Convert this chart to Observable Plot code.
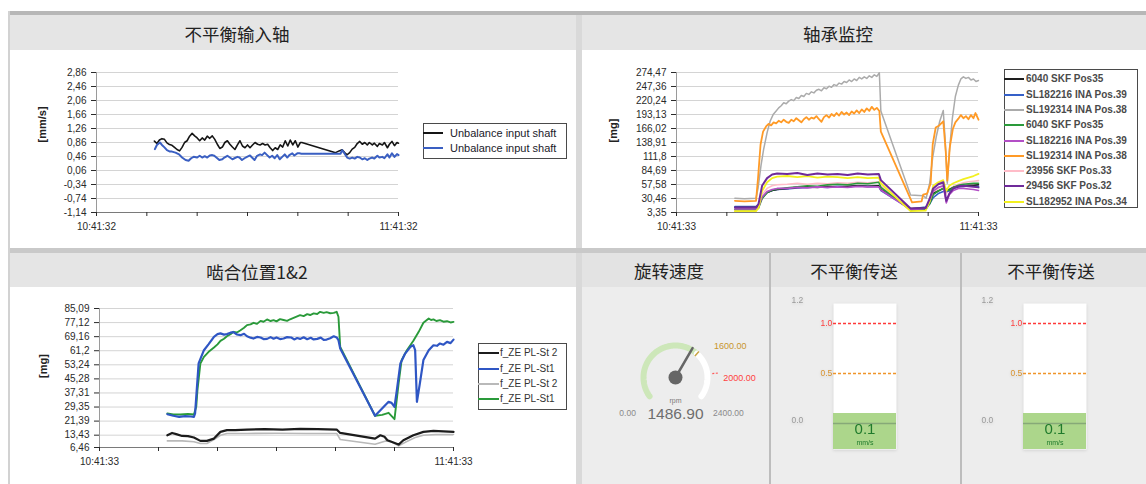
<!DOCTYPE html>
<html><head><meta charset="utf-8">
<script src="https://cdn.jsdelivr.net/npm/d3@7"></script>
<script src="https://cdn.jsdelivr.net/npm/@observablehq/plot@0.6"></script>
<style>
html,body{margin:0;padding:0;background:#fff;}
#page{position:relative;width:1146px;height:484px;overflow:hidden;font-family:"Liberation Sans",Arial,sans-serif;}
#page svg{position:absolute;}
.title{position:absolute;transform:translate(-50%,-50%);font-family:"Noto Sans CJK SC",sans-serif;font-size:17.5px;color:#222;white-space:nowrap;}
.legend{position:absolute;background:#fff;border:1px solid #4a4a4a;box-sizing:border-box;}
.legend .sw{position:absolute;height:2px;}
.legend .tx{position:absolute;transform:translateY(-50%);line-height:1;white-space:nowrap;}
.barsvg{filter:drop-shadow(0 1px 1.5px rgba(0,0,0,0.12));}
</style></head>
<body><div id="page"></div>
<script>
// ---------------- data ----------------
const panelTitles = ["不平衡输入轴", "轴承监控", "啮合位置1&2", "旋转速度", "不平衡传送", "不平衡传送"];

// time axis: minutes after the start label
const timeLabelsA = ["10:41:32", "11:41:32"];
const timeLabelsB = ["10:41:33", "11:41:33"];

// --- 不平衡输入轴 ---
const unbalanceTicks = ["2,86", "2,46", "2,06", "1,66", "1,26", "0,86", "0,46", "0,06", "-0,34", "-0,74", "-1,14"];
const unbalanceUnit = "[mm/s]";
const unbalanceNames = ["Unbalance input shaft", "Unbalance input shaft"];
const unbalanceBlack = [[11.5,0.90],[12,0.83],[12.5,0.93],[13,0.97],[13.5,0.95],[14,0.85],[14.5,0.80],[15,0.78],[15.5,0.72],[16,0.66],[16.5,0.62],[17,0.72],[17.5,0.86],[18,0.91],[18.5,1.04],[19,1.12],[19.5,1.05],[20,0.99],[20.5,0.91],[21,0.99],[21.5,0.93],[22,1.04],[22.5,0.98],[23,1.05],[23.5,0.95],[24,0.81],[24.5,0.69],[25,0.73],[25.5,0.86],[26,0.91],[26.5,0.81],[27,0.73],[27.5,0.66],[28,0.79],[28.5,0.91],[29,0.76],[29.5,0.71],[30,0.79],[30.5,0.71],[31,0.79],[31.5,0.86],[32,0.81],[32.5,0.79],[33,0.83],[33.5,0.79],[34,0.81],[34.5,0.71],[35,0.63],[35.5,0.71],[36,0.66],[36.5,0.79],[37,0.73],[37.5,0.91],[38,0.76],[38.5,0.93],[39,0.79],[39.5,0.91],[40,0.73],[40.5,0.86],[40.8,0.86],[47.5,0.57],[48.2,0.62],[48.8,0.65],[49.3,0.57],[49.8,0.51],[50.3,0.57],[50.8,0.67],[51.3,0.72],[51.8,0.83],[52.3,0.89],[52.8,0.81],[53.3,0.86],[53.8,0.79],[54.2,0.86],[54.8,0.79],[55.2,0.84],[55.8,0.75],[56.2,0.83],[56.8,0.79],[57.2,0.86],[57.8,0.71],[58.2,0.81],[58.7,0.89],[59.2,0.77],[59.7,0.86],[60,0.84]];
const unbalanceBlue = [[11.6,0.67],[12,0.79],[12.6,0.86],[13,0.79],[13.5,0.72],[14,0.64],[14.6,0.60],[15,0.60],[15.7,0.57],[16.4,0.52],[17,0.43],[17.7,0.36],[18.3,0.34],[18.8,0.41],[19.3,0.45],[20,0.43],[20.5,0.48],[21,0.43],[21.5,0.47],[22,0.43],[22.5,0.49],[23,0.50],[23.4,0.48],[24,0.41],[24.4,0.36],[25,0.38],[25.4,0.43],[26,0.48],[26.5,0.43],[27,0.38],[27.4,0.41],[28,0.45],[28.4,0.43],[28.9,0.36],[29.4,0.41],[29.9,0.45],[30.5,0.49],[30.9,0.43],[31.4,0.36],[31.9,0.48],[32.5,0.52],[32.9,0.50],[33.4,0.57],[33.9,0.50],[34.4,0.43],[34.9,0.48],[35.4,0.41],[35.9,0.50],[36.4,0.38],[36.9,0.45],[37.4,0.52],[37.9,0.43],[38.3,0.50],[38.9,0.55],[39.3,0.49],[39.9,0.55],[40.3,0.55],[40.7,0.54],[48.5,0.54],[48.8,0.64],[49.3,0.54],[49.8,0.43],[50.3,0.40],[50.8,0.43],[51.3,0.40],[51.8,0.45],[52.3,0.43],[52.8,0.38],[53.3,0.41],[53.8,0.36],[54.2,0.40],[54.8,0.43],[55.2,0.40],[55.8,0.48],[56.2,0.43],[56.8,0.45],[57.2,0.41],[57.8,0.52],[58.2,0.43],[58.7,0.55],[59.2,0.45],[59.7,0.53],[60,0.50]];

// --- 轴承监控 ---
const bearingTicks = ["274,47", "247,36", "220,24", "193,13", "166,02", "138,91", "111,8", "84,69", "57,58", "30,46", "3,35"];
const bearingUnit = "[mg]";
const bearingNames = ["6040 SKF Pos35", "SL182216 INA Pos.39", "SL192314 INA Pos.38", "6040 SKF Pos35", "SL182216 INA Pos.39", "SL192314 INA Pos.38", "23956 SKF Pos.33", "29456 SKF Pos.32", "SL182952 INA Pos.34"];
const bearingTime = [11.6,15.8,16.3,17.0,18.0,19.0,20.0,22.0,24.0,26.0,28.0,30.0,32.0,34.0,36.0,38.0,40.2,40.6,46.5,49.5,50.3,51.0,52.0,53.0,53.6,54.2,55.0,56.0,57.0,58.0,59.0,60.0];
const bearingSkf35a   = [13,13,16,32,42,46,48,50,52,53,52,54,53,54,55,54,55,48,11,12,22,40,45,50,46,48,52,54,55,56,56,57];
const bearingIna39a   = [15,15,18,32,42,46,48,49,51,52,53,52,54,53,55,54,54,46,10,14,20,32,40,44,44,45,50,53,54,55,55,54];
const bearingSkf35b   = [9,9,12,30,42,47,49,51,53,55,54,57,58,57,60,59,62,52,8,9,20,38,45,50,48,46,52,56,58,59,60,60];
const bearingIna39b   = [10,10,14,33,44,48,50,50,52,51,53,52,53,52,54,53,53,47,9,11,25,45,52,55,22,38,46,50,50,49,48,46];
const bearingSkf33    = [8,8,12,38,50,55,57,58,60,58,60,59,61,60,62,61,63,55,9,10,22,42,50,55,40,48,54,58,61,63,64,65];
const bearingSkf32    = [13,13,20,55,70,77,79,78,80,76,79,77,78,76,79,77,78,66,11,12,30,50,58,62,26,40,50,54,55,54,53,52];
const bearingIna34    = [6,6,12,45,62,70,73,74,72,74,71,73,72,70,72,70,71,60,6,7,25,55,62,66,45,55,60,64,68,71,74,78];
const bearingIna38a = [[11.6,31],[13.5,30],[15.8,31],[16.2,50],[16.8,95],[17.3,125],[18.0,158],[18.6,180],[19.2,193],[19.8,200],[20.3,206],[20.8,210],[21.3,216],[21.8,214],[22.3,219],[22.8,222],[23.3,220],[23.8,226],[24.3,224],[24.8,230],[25.3,228],[25.8,234],[26.3,232],[26.8,237],[27.3,235],[27.8,240],[28.3,242],[28.8,239],[29.3,245],[29.8,243],[30.3,248],[30.8,246],[31.3,251],[31.8,249],[32.3,254],[32.8,252],[33.3,257],[33.8,255],[34.3,260],[34.8,257],[35.3,262],[35.8,259],[36.3,265],[36.8,262],[37.3,266],[37.8,263],[38.3,268],[38.8,265],[39.3,270],[39.8,267],[40.3,274],[40.6,200],[46.5,37],[49.0,36],[49.6,31],[50.3,60],[50.9,110],[51.6,150],[52.3,180],[53.0,201],[53.4,140],[53.8,60],[54.2,120],[54.8,185],[55.4,228],[56.0,250],[56.5,262],[57.0,266],[57.5,263],[58.0,265],[58.5,260],[59.0,262],[59.5,257],[60.0,259]];
const bearingIna38b = [[11.6,26],[13.5,25],[15.8,26],[16.2,70],[16.7,135],[17.2,160],[17.8,170],[18.3,175],[18.8,172],[19.3,178],[19.8,176],[20.3,181],[20.8,178],[21.3,183],[21.8,179],[22.3,177],[22.8,183],[23.3,180],[23.8,186],[24.3,182],[24.8,178],[25.3,184],[25.8,188],[26.3,183],[26.8,187],[27.3,185],[27.8,190],[28.3,184],[28.8,179],[29.3,188],[29.8,192],[30.3,187],[30.8,194],[31.3,190],[31.8,196],[32.3,191],[32.8,198],[33.3,193],[33.8,197],[34.3,192],[34.8,199],[35.3,195],[35.8,201],[36.3,196],[36.8,203],[37.3,198],[37.8,205],[38.3,200],[38.8,208],[39.3,202],[39.8,206],[40.3,200],[40.6,160],[46.8,23],[48.7,25],[49.0,38],[49.8,40],[50.5,60],[50.9,135],[51.5,168],[52.2,172],[53.0,180],[53.5,120],[53.8,65],[54.3,130],[54.9,165],[55.4,178],[56.0,185],[56.5,192],[57.0,186],[57.5,190],[58.0,184],[58.5,192],[59.0,186],[59.4,196],[60.0,183]];

// --- 啮合位置1&2 ---
const meshTicks = ["85,09", "77,12", "69,16", "61,2", "53,24", "45,28", "37,31", "29,35", "21,39", "13,43", "6,46"];
const meshUnit = "[mg]";
const meshNames = ["f_ZE PL-St 2", "f_ZE PL-St1", "f_ZE PL-St 2", "f_ZE PL-St1"];
const meshSt2a = [[11.5,13.4],[12.3,14.7],[13.0,14.0],[14.0,13.0],[15.0,12.9],[16.0,12.1],[17.1,10.2],[18.2,10.2],[19.4,11.5],[20.5,15.3],[21.6,16.3],[23.0,16.3],[25.0,16.6],[28.0,16.8],[31.0,16.6],[34.0,17.0],[37.0,16.8],[40.2,16.6],[40.8,14.7],[46.7,11.5],[47.6,13.4],[48.3,12.5],[48.8,10.6],[50.7,8.1],[51.5,10.6],[53.2,13.4],[54.9,15.3],[56.6,15.9],[60.0,15.3]];
const meshSt1a = [[11.5,25.3],[12.5,24.4],[13.5,23.8],[14.5,24.2],[15.5,24.0],[16.0,23.8],[16.2,25.7],[16.8,54.0],[17.7,61.5],[18.5,64.9],[19.4,69.1],[20.0,70.6],[20.5,71.0],[21.1,70.3],[21.6,70.6],[22.2,71.4],[22.7,71.7],[23.3,70.4],[23.9,70.0],[24.5,70.8],[25.0,69.4],[25.6,68.6],[26.1,68.1],[26.7,69.0],[27.3,68.7],[27.8,67.8],[28.4,67.9],[29.0,68.9],[29.5,68.0],[30.0,68.7],[30.6,67.8],[31.2,68.1],[31.8,68.9],[32.5,68.7],[33.0,67.6],[33.5,68.4],[34.0,67.9],[34.6,68.8],[35.2,67.7],[35.8,68.5],[36.3,67.6],[36.9,67.9],[37.5,68.6],[38.0,67.3],[38.5,67.5],[39.1,68.3],[39.7,69.4],[40.2,68.7],[40.5,67.2],[40.8,62.5],[46.7,24.4],[49.0,32.3],[49.5,31.7],[50.0,29.5],[50.4,38.9],[51.0,54.0],[51.8,59.6],[52.7,63.4],[53.2,64.3],[53.5,61.5],[53.8,32.3],[54.3,42.7],[54.9,55.9],[55.8,61.5],[56.6,64.3],[57.2,64.0],[57.7,65.3],[58.3,64.6],[58.9,66.2],[59.5,65.5],[60.0,67.5]];
const meshSt2b = [[11.5,10.2],[14.0,10.2],[16.0,9.7],[17.1,8.7],[18.2,8.7],[19.4,11.0],[20.5,13.4],[21.6,14.4],[25.0,14.4],[30.0,14.5],[35.0,14.4],[40.2,14.4],[40.8,11.0],[46.7,8.3],[48.5,10.2],[49.5,9.7],[50.7,7.4],[52.0,9.7],[53.5,12.1],[54.9,13.4],[57.0,13.8],[60.0,13.8]];
const meshSt1b = [[11.5,25.7],[12.5,25.2],[13.7,25.1],[15.0,25.4],[16.0,25.1],[16.4,29.5],[16.6,38.9],[17.1,54.0],[17.7,57.7],[18.5,60.6],[19.4,63.0],[20.0,64.8],[20.5,66.8],[21.1,68.0],[21.6,69.4],[22.2,70.5],[22.7,71.9],[23.3,71.5],[23.9,72.8],[24.5,74.2],[25.0,75.7],[25.6,76.1],[26.1,77.0],[26.7,76.4],[27.3,78.1],[27.8,77.6],[28.4,78.9],[29.0,78.0],[29.5,78.5],[30.0,77.8],[30.6,79.1],[31.2,78.6],[31.8,78.1],[32.3,79.0],[32.9,79.8],[33.5,80.6],[34.0,81.3],[34.6,80.8],[35.2,81.9],[35.7,81.4],[36.3,82.3],[36.9,82.0],[37.4,83.2],[38.0,82.6],[38.5,83.0],[39.1,82.4],[39.7,82.6],[40.2,83.2],[40.5,80.4],[40.8,63.4],[46.7,24.4],[47.9,24.9],[49.0,26.1],[50.0,22.5],[50.7,42.7],[51.2,55.9],[52.1,61.5],[53.2,66.8],[54.1,71.9],[54.9,77.0],[55.8,79.4],[56.2,78.6],[56.6,78.9],[57.1,78.0],[57.7,78.5],[58.3,77.6],[58.9,77.9],[59.5,77.2],[60.0,77.5]];

// --- 旋转速度 gauge ---
const rpmValue = 1486.90;
const rpmMin = 0, rpmMax = 2400, rpmWarn = 1600, rpmAlarm = 2000;
const rpmUnit = "rpm";

// --- 不平衡传送 bars ---
const balanceValues = [0.1, 0.1];
const balanceMin = 0.0, balanceMax = 1.2, balanceAlarm = 1.0, balanceWarn = 0.5;
const balanceUnit = "mm/s";

// ---------------- layout helpers ----------------
const page = document.getElementById("page");
function box(l, t, w, h, bg) {
  const d = document.createElement("div");
  Object.assign(d.style, {position: "absolute", left: l + "px", top: t + "px", width: w + "px", height: h + "px", background: bg});
  page.appendChild(d); return d;
}
function title(text, cx, cy) {
  const d = document.createElement("div");
  d.className = "title"; d.textContent = text;
  d.style.left = cx + "px"; d.style.top = cy + "px";
  page.appendChild(d);
}
function place(node, l, t, cls) { node.style.left = l + "px"; node.style.top = t + "px"; if (cls) node.classList.add(cls); page.appendChild(node); }
function legend(l, t, w, h, rows, opt) {
  const d = document.createElement("div");
  d.className = "legend";
  Object.assign(d.style, {left: l + "px", top: t + "px", width: w + "px", height: h + "px"});
  rows.forEach((r, i) => {
    const y = opt.y0 + i * opt.step;
    const s = document.createElement("div"); s.className = "sw";
    Object.assign(s.style, {left: "-1px", top: (y - 1) + "px", width: opt.sw + "px", background: r.color, height: (opt.lw || 2) + "px"});
    const tx = document.createElement("div"); tx.className = "tx"; tx.textContent = r.name;
    Object.assign(tx.style, {left: opt.tx + "px", top: y + "px", fontSize: opt.fs + "px", fontWeight: opt.fw || "normal", color: opt.color || "#222"});
    d.appendChild(s); d.appendChild(tx);
  });
  page.appendChild(d);
}

// ---------------- frame / panels ----------------
box(8, 11, 1138, 4, "#b7b7b7");
box(8, 11, 2, 473, "#d2d2d2");
box(10, 15, 566, 35, "#e5e5e5");
box(582, 15, 564, 35, "#e5e5e5");
box(576, 15, 6, 469, "#d9d9d9");
box(10, 248, 1136, 5, "#c9c9c9");
box(10, 253, 566, 34, "#e5e5e5");
box(582, 253, 564, 34, "#e3e3e3");
box(582, 287, 564, 197, "#ededed");
box(769, 253, 2, 231, "#bdbdbd");
box(960, 253, 2, 231, "#bdbdbd");

title(panelTitles[0], 237, 33);
title(panelTitles[1], 838, 33);
title(panelTitles[2], 257, 271);
title(panelTitles[3], 669, 270);
title(panelTitles[4], 854, 270);
title(panelTitles[5], 1051, 270);

// ---------------- trend charts ----------------
const baseStyle = {fontFamily: '"Liberation Sans", Arial, sans-serif', fontSize: "10px", color: "#2a2a2a", background: "transparent", overflow: "visible"};
function trendChart({width, height, mt, mb, ml, mr, yLabels, xLabels, series, unit, unitDx}) {
  const yVals = yLabels.map(s => +s.replace(",", "."));
  const names = new Map(yVals.map((v, i) => [v, yLabels[i]]));
  const ymin = d3.min(yVals), ymax = d3.max(yVals);
  const xTicks = d3.range(0, 61, 10);
  return Plot.plot({
    width, height, marginTop: mt, marginBottom: mb, marginLeft: ml, marginRight: mr,
    style: baseStyle,
    x: {domain: [0, 60]},
    y: {domain: [ymin, ymax]},
    marks: [
      Plot.gridY({ticks: yVals, stroke: "#d4d4d4", strokeOpacity: 1}),
      Plot.ruleX([0], {stroke: "#9a9a9a"}),
      Plot.ruleY([ymin], {stroke: "#7a7a7a"}),
      Plot.axisY({ticks: yVals, tickFormat: d => names.get(d), tickSize: 5, tickPadding: 5, label: null}),
      Plot.axisX({ticks: xTicks, tickFormat: d => d === 0 ? xLabels[0] : d === 60 ? xLabels[1] : "", tickSize: 4, tickPadding: 6, label: null}),
      ...series.map(s => Plot.line(s.data, {x: d => d[0], y: d => d[1], stroke: s.color, strokeWidth: s.width || 1.5})),
      Plot.text([unit], {text: d => d, frameAnchor: "left", rotate: -90, dx: unitDx, fontWeight: "bold", fontSize: 11, fill: "#222"})
    ]
  });
}

// 不平衡输入轴
const colUnb = ["#151515", "#3a5fc2"];
place(trendChart({
  width: 420, height: 198, mt: 22, mb: 36, ml: 96, mr: 22,
  yLabels: unbalanceTicks, xLabels: timeLabelsA, unit: unbalanceUnit, unitDx: -54,
  series: [
    {data: unbalanceBlack, color: colUnb[0], width: 1.6},
    {data: unbalanceBlue, color: colUnb[1], width: 2}
  ]
}), 0, 50);
legend(423, 123, 144, 36, unbalanceNames.map((n, i) => ({name: n, color: colUnb[i]})), {y0: 8.5, step: 15.5, sw: 20, tx: 26, fs: 11, color: "#1a1a2a"});

// 轴承监控
const colBearing = ["#1e1e1e", "#3560c8", "#ababab", "#2a9a3a", "#b34fc6", "#ff9a26", "#ffbcc8", "#6f2a9a", "#f2f020"];
const zipT = vals => vals.map((v, i) => [bearingTime[i], v]);
place(trendChart({
  width: 420, height: 198, mt: 22, mb: 36, ml: 96, mr: 22,
  yLabels: bearingTicks, xLabels: timeLabelsB, unit: bearingUnit, unitDx: -63.5,
  series: [
    {data: bearingIna38a, color: colBearing[2], width: 1.5},
    {data: bearingIna38b, color: colBearing[5], width: 1.8},
    {data: zipT(bearingSkf33), color: colBearing[6], width: 1.6},
    {data: zipT(bearingIna39a), color: colBearing[1], width: 1.6},
    {data: zipT(bearingSkf35a), color: colBearing[0], width: 1.6},
    {data: zipT(bearingSkf35b), color: colBearing[3], width: 1.6},
    {data: zipT(bearingIna39b), color: colBearing[4], width: 1.6},
    {data: zipT(bearingIna34), color: colBearing[8], width: 1.8},
    {data: zipT(bearingSkf32), color: colBearing[7], width: 2}
  ]
}), 580, 50);
legend(1004, 69, 134, 139, bearingNames.map((n, i) => ({name: n, color: colBearing[i]})), {y0: 9.3, step: 15.3, sw: 20, tx: 21, fs: 10, fw: "bold", color: "#4a4a4a"});

// 啮合位置1&2
const colMesh = ["#1c1c1c", "#2f56c4", "#b9b9b9", "#2a9a3a"];
place(trendChart({
  width: 470, height: 197, mt: 21, mb: 37, ml: 99, mr: 17,
  yLabels: meshTicks, xLabels: timeLabelsB, unit: meshUnit, unitDx: -55.7,
  series: [
    {data: meshSt2b, color: colMesh[2], width: 1.6},
    {data: meshSt2a, color: colMesh[0], width: 2.2},
    {data: meshSt1b, color: colMesh[3], width: 1.9},
    {data: meshSt1a, color: colMesh[1], width: 2.2}
  ]
}), 0, 287);
legend(478, 343, 89, 67, meshNames.map((n, i) => ({name: n, color: colMesh[i]})), {y0: 9.3, step: 15.3, sw: 21, tx: 21, fs: 10, color: "#333"});

// ---------------- gauge ----------------
const sweep = 252;
const ang = v => (-sweep / 2 + sweep * (v - rpmMin) / (rpmMax - rpmMin)) * Math.PI / 180;
const pt = (v, r) => [r * Math.sin(ang(v)), r * Math.cos(ang(v))];
const arcGreen = d3.range(rpmMin, rpmWarn + 1, 20).map(v => pt(v, 32));
const arcWhite = d3.range(rpmWarn, rpmMax + 1, 20).map(v => pt(v, 32));
const fmt2 = v => v.toFixed(2);
place(Plot.plot({
  width: 189, height: 197, margin: 0,
  style: baseStyle,
  x: {domain: [-95, 94], axis: null},
  y: {domain: [-107, 90], axis: null},
  marks: [
    Plot.line(arcGreen, {x: d => d[0], y: d => d[1], stroke: "#cde7b9", strokeWidth: 6}),
    Plot.line(arcWhite, {x: d => d[0], y: d => d[1], stroke: "#ffffff", strokeWidth: 6}),
    Plot.link([rpmWarn], {x1: v => pt(v, 29)[0], y1: v => pt(v, 29)[1], x2: v => pt(v, 35)[0], y2: v => pt(v, 35)[1], stroke: "#c9a443", strokeWidth: 1.5}),
    Plot.link([rpmAlarm], {x1: v => pt(v, 37)[0], y1: v => pt(v, 37)[1], x2: v => pt(v, 43)[0], y2: v => pt(v, 43)[1], stroke: "#ff5a5a", strokeDasharray: "2,1.5", strokeWidth: 1.2}),
    Plot.link([rpmValue], {x1: 0, y1: 0, x2: v => pt(v, 34)[0], y2: v => pt(v, 34)[1], stroke: "#666", strokeWidth: 2.5, strokeLinecap: "round"}),
    Plot.dot([rpmValue], {x: 0, y: 0, r: 7, fill: "#666", stroke: null}),
    Plot.text([rpmWarn], {x: v => pt(v, 44)[0], y: v => pt(v, 44)[1], text: fmt2, textAnchor: "start", dx: 9, dy: 1, fill: "#c8952d", fontSize: 9}),
    Plot.text([rpmAlarm], {x: v => pt(v, 46)[0], y: v => pt(v, 46)[1], text: fmt2, textAnchor: "start", dx: 2, dy: 5, fill: "#ff4040", fontSize: 9}),
    Plot.text([rpmMin], {x: v => pt(v, 32)[0], y: v => pt(v, 32)[1], text: fmt2, dx: -22, dy: 17, fill: "#8a8a8a", fontSize: 8.5}),
    Plot.text([rpmMax], {x: v => pt(v, 32)[0], y: v => pt(v, 32)[1], text: fmt2, dx: 27, dy: 17, fill: "#8a8a8a", fontSize: 8.5}),
    Plot.text([rpmUnit], {x: 0, y: 0, text: d => d, dy: 23, fill: "#7a7a7a", fontSize: 7}),
    Plot.text([rpmValue], {x: 0, y: 0, text: fmt2, dy: 37, fill: "#6e6e6e", fontSize: 15.5})
  ]
}), 580, 287);

// ---------------- unbalance transmission bars ----------------
const balanceFloor = -0.26;
function balanceBar(value) {
  const g = "#1f7a2c";
  return Plot.plot({
    width: 190, height: 197, marginLeft: 63, marginRight: 64, marginTop: 16, marginBottom: 35,
    style: baseStyle,
    x: {type: "band", domain: [0], padding: 0, axis: null},
    y: {domain: [balanceFloor, balanceMax], axis: null},
    marks: [
      Plot.frame({fill: "#ffffff", stroke: "none"}),
      Plot.barY([value], {x: () => 0, y1: balanceFloor, y2: d => d, fill: "#acd68b"}),
      Plot.ruleY([balanceMin], {stroke: "#86a978", strokeWidth: 1.5}),
      Plot.ruleY([balanceAlarm], {stroke: "#ff3a3a", strokeWidth: 1.3, strokeDasharray: "3,2"}),
      Plot.ruleY([balanceWarn], {stroke: "#f0952a", strokeWidth: 1.3, strokeDasharray: "3,2"}),
      Plot.text([balanceMax, balanceMin], {y: d => d, frameAnchor: "left", dx: -42, dy: -3, text: d => d.toFixed(1), fill: "#9a9a9a", fontSize: 8.5}),
      Plot.text([balanceAlarm], {y: d => d, frameAnchor: "left", dx: -13, text: d => d.toFixed(1), fill: "#ff3b3b", fontSize: 8.5}),
      Plot.text([balanceWarn], {y: d => d, frameAnchor: "left", dx: -13, text: d => d.toFixed(1), fill: "#d8922e", fontSize: 8.5}),
      Plot.text([value], {x: () => 0, frameAnchor: "bottom", dy: -16, text: d => d.toFixed(1), fill: g, fontSize: 15}),
      Plot.text([balanceUnit], {x: () => 0, frameAnchor: "bottom", dy: -5, text: d => d, fill: g, fontSize: 7})
    ]
  });
}
place(balanceBar(balanceValues[0]), 770, 287, "barsvg");
place(balanceBar(balanceValues[1]), 960, 287, "barsvg");
</script>
</body></html>
